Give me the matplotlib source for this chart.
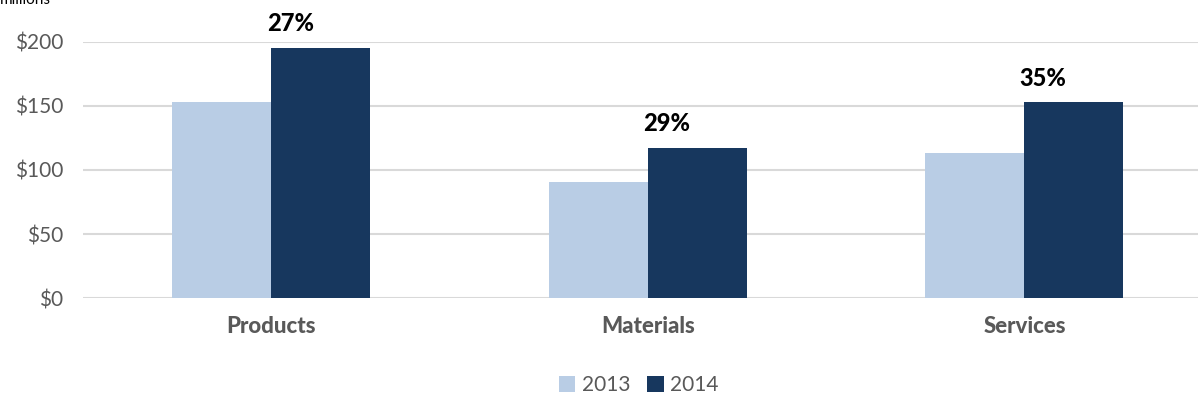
import numpy as np
import matplotlib.pyplot as plt

plt.rcParams["font.family"] = ["Lato", "DejaVu Sans"]

categories = ["Products", "Materials", "Services"]
sales_2013 = [153.1, 90.8, 113.3]
sales_2014 = [195.2, 117.3, 152.6]
growth_labels = ["27%", "29%", "35%"]
yticks = [0, 50, 100, 150, 200]

fig = plt.figure(figsize=(11.98, 4.04), dpi=100)
ax = fig.add_axes([0.0693, 0.2616, 0.943, 0.6356])

x = np.arange(len(categories))
w = 0.263
ax.bar(x - w / 2, sales_2013, w, color="#B9CDE5", label="2013", zorder=2)
ax.bar(x + w / 2, sales_2014, w, color="#17375E", label="2014", zorder=2)

for xi, v, lab in zip(x, sales_2014, growth_labels):
    ax.annotate(lab, (xi + 0.05, v), xytext=(0, 9), textcoords="offset points",
                ha="center", va="bottom", fontsize=17, fontweight=900, color="black")

ax.set_xlim(-0.5, len(categories) - 0.5)
ax.set_ylim(0, 200)
ax.set_yticks(yticks)
ax.set_yticklabels([f"${v}" for v in yticks], fontsize=15, color="#595959")
ax.set_xticks(x)
ax.set_xticklabels(categories, fontsize=16, fontweight=900, color="#595959")
ax.tick_params(axis="both", length=0)
ax.tick_params(axis="y", pad=14)
ax.tick_params(axis="x", pad=13)
ax.grid(axis="y", color="#D9D9D9", linewidth=1.5, zorder=0)
for s in ax.spines.values():
    s.set_visible(False)

fig.text(0.0, 1.0, "millions", fontsize=11, color="black", ha="left", va="center")

fig.legend(loc="center", bbox_to_anchor=(0.533, 0.047), ncol=2, frameon=False,
           fontsize=15, handlelength=0.8, handleheight=0.8, handletextpad=0.3,
           columnspacing=0.8, labelcolor="#595959")

fig.savefig("out.png", dpi=100)
